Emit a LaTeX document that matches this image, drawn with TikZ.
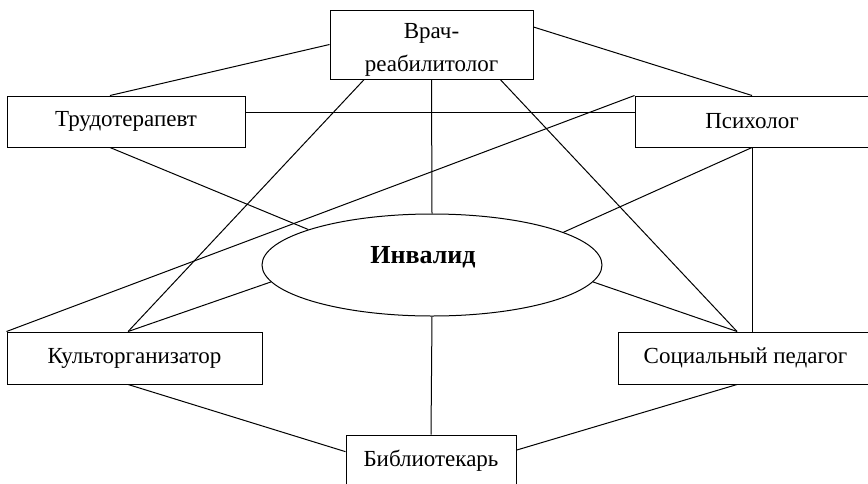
\documentclass[tikz,border=0pt]{standalone}
\usepackage{fontspec}
\setmainfont{Liberation Serif}
\usepackage{tikz}
\usetikzlibrary{calc,shapes.geometric}
\tikzset{
  rhbox/.style={
    rectangle, draw=black, fill=white, line width=1pt,
    inner sep=1pt, align=center, font=\fontsize{23}{33}\selectfont
  },
  rhcenter/.style={
    ellipse, draw=black, fill=white, line width=1pt,
    minimum width=340pt, minimum height=102pt, inner sep=0pt
  },
  rhtitle/.style={font=\fontsize{26}{30}\selectfont\bfseries},
  rhlink/.style={line width=1pt}
}
\begin{document}
\begin{tikzpicture}[x=1pt,y=-1pt]
  \useasboundingbox (0,0) rectangle (868,483);
  \clip (0,0) rectangle (868,483);
  % specialists round the client
  \node[rhbox,minimum width=203pt,minimum height=69pt] (vrach) at (431.5,44.5) {\rule{0pt}{26pt}Врач-\\реабилитолог};
  \node[rhbox,minimum width=238pt,minimum height=51pt] (trud) at (126,121.5) {Трудотерапевт};
  \node[rhbox,minimum width=234pt,minimum height=51pt] (psih) at (752,121.5) {Психолог};
  \node[rhbox,minimum width=255pt,minimum height=52pt] (kult) at (134.5,358) {Культорганизатор};
  \node[rhbox,minimum width=255pt,minimum height=52pt] (soc) at (745.5,358) {Социальный педагог};
  \node[rhbox,minimum width=170pt,minimum height=51pt] (bib) at (431,460.5) {Библиотекарь};
  \node[rhcenter] (inv) at (432,265) {};
  \node[rhtitle] (invtext) at ($(inv.center)+(-9,-8)$) {Инвалид};
  % links of the doctor
  \draw[rhlink] (vrach.west) -- ($(trud.north west)!0.433!(trud.north east)$);
  \draw[rhlink] ($(vrach.north east)!0.25!(vrach.south east)$) -- (psih.north);
  \draw[rhlink] ($(vrach.south west)!0.17!(vrach.south east)$) -- ($(kult.north west)!0.475!(kult.north east)$);
  \draw[rhlink] ($(vrach.south west)!0.837!(vrach.south east)$) -- ($(soc.north west)!0.467!(soc.north east)$);
  \draw[rhlink] (vrach.south) -- (inv.north);
  % links of the others
  \draw[rhlink] ($(trud.north east)!0.33!(trud.south east)$) -- ($(psih.north west)!0.33!(psih.south west)$);
  \draw[rhlink] ($(trud.south west)!0.433!(trud.south east)$) -- (inv.164);
  \draw[rhlink] (psih.north west) -- (kult.north west);
  \draw[rhlink] (psih.south) -- (inv.14);
  \draw[rhlink] (psih.south) -- (psih.south |- soc.north);
  \draw[rhlink] ($(kult.north west)!0.475!(kult.north east)$) -- (inv.186);
  \draw[rhlink] (inv.354) -- ($(soc.north west)!0.467!(soc.north east)$);
  \draw[rhlink] (inv.south) -- (bib.north);
  \draw[rhlink] ($(kult.south west)!0.475!(kult.south east)$) -- ($(bib.north west)!0.33!(bib.south west)$);
  \draw[rhlink] ($(soc.south west)!0.467!(soc.south east)$) -- ($(bib.north east)!0.3!(bib.south east)$);
\end{tikzpicture}
\end{document}
